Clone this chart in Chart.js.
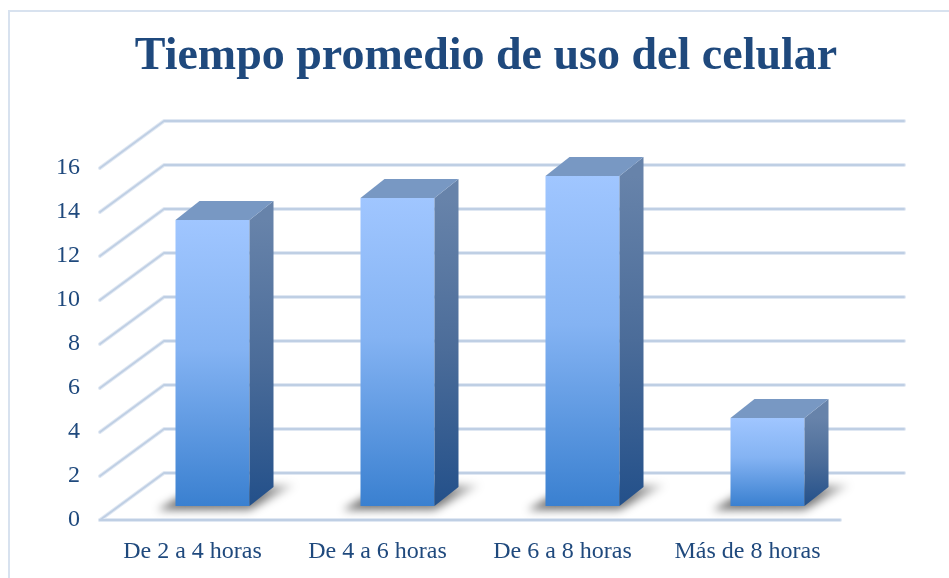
<!DOCTYPE html>
<html><head><meta charset="utf-8">
<script src="https://cdn.jsdelivr.net/npm/chart.js@4.4.1/dist/chart.umd.min.js"></script>
<style>html,body{margin:0;padding:0;background:#fff;} #wrap{width:949px;height:578px;position:relative;}</style>
</head><body><div id="wrap"><canvas id="c" width="949" height="578"></canvas></div>
<script>
const categories = ['De 2 a 4 horas', 'De 4 a 6 horas', 'De 6 a 8 horas', 'Más de 8 horas'];
const values = [13, 14, 15, 4];
const yTicks = [0, 2, 4, 6, 8, 10, 12, 14, 16];
const chartTitle = 'Tiempo promedio de uso del celular';

const TEXT_COLOR = '#1f497d';
const WALL_DX = 64, WALL_DY = -47;     // back wall offset from front plane
const BAR_SHIFT_X = 20, BAR_SHIFT_Y = -14; // bar front face depth
const BAR_DX = 24, BAR_DY = -19;       // bar depth

function frontGradient(ctx, top, bottom) {
  const g = ctx.createLinearGradient(0, top, 0, bottom);
  g.addColorStop(0, '#a0c6ff');
  g.addColorStop(0.45, '#84b3f3');
  g.addColorStop(1, '#3a80d0');
  return g;
}

function strokeGrid(ctx, draw) {
  ctx.strokeStyle = '#e0e8f3';
  ctx.lineWidth = 4;
  draw();
  ctx.strokeStyle = '#bfcfe4';
  ctx.lineWidth = 1.8;
  draw();
}

const threeD = {
  id: 'threeD',
  beforeDraw(chart) {
    const ctx = chart.ctx;
    ctx.save();
    ctx.fillStyle = '#ffffff';
    ctx.fillRect(0, 0, chart.width, chart.height);
    ctx.strokeStyle = '#d8e2ef';
    ctx.lineWidth = 2;
    ctx.beginPath();
    ctx.moveTo(9, chart.height);
    ctx.lineTo(9, 11);
    ctx.lineTo(chart.width, 11);
    ctx.stroke();
    ctx.fillStyle = TEXT_COLOR;
    ctx.font = 'bold 46px "Liberation Serif"';
    ctx.textAlign = 'center';
    ctx.textBaseline = 'alphabetic';
    ctx.fillText(chartTitle, 486, 69);
    ctx.restore();
  },
  beforeDatasetsDraw(chart) {
    const ctx = chart.ctx;
    const y = chart.scales.y, area = chart.chartArea;
    ctx.save();
    ctx.lineCap = 'round';
    ctx.lineJoin = 'round';
    const p0 = y.getPixelForValue(0);
    strokeGrid(ctx, () => {
      yTicks.forEach(v => {
        const py = y.getPixelForValue(v);
        ctx.beginPath();
        ctx.moveTo(area.left, py);
        ctx.lineTo(area.left + WALL_DX, py + WALL_DY);
        ctx.lineTo(area.right + WALL_DX, py + WALL_DY);
        ctx.stroke();
      });
      ctx.beginPath();
      ctx.moveTo(area.left, p0);
      ctx.lineTo(area.right, p0);
      ctx.stroke();
    });
    // shadows
    const meta = chart.getDatasetMeta(0);
    meta.data.forEach(bar => {
      const l = bar.x - bar.width / 2 + BAR_SHIFT_X, r = bar.x + bar.width / 2 + BAR_SHIFT_X;
      const b = bar.base + BAR_SHIFT_Y;
      ctx.save();
      ctx.filter = 'blur(4px)';
      const g = ctx.createLinearGradient(l, 0, r + BAR_DX + 22, 0);
      g.addColorStop(0, 'rgba(0,0,0,0.55)');
      g.addColorStop(0.7, 'rgba(0,0,0,0.5)');
      g.addColorStop(1, 'rgba(0,0,0,0.1)');
      ctx.fillStyle = g;
      ctx.beginPath();
      ctx.moveTo(l - 18, b + 4);
      ctx.lineTo(r, b + 4);
      ctx.lineTo(r + BAR_DX + 22, b + BAR_DY - 2);
      ctx.lineTo(l + BAR_DX, b + BAR_DY - 2);
      ctx.closePath();
      ctx.fill();
      ctx.restore();
    });
    ctx.restore();
    ctx.save();
    ctx.translate(BAR_SHIFT_X, BAR_SHIFT_Y);
  },
  afterDatasetsDraw(chart) {
    const ctx = chart.ctx;
    const meta = chart.getDatasetMeta(0);
    meta.data.forEach(bar => {
      const l = bar.x - bar.width / 2, r = bar.x + bar.width / 2;
      const t = bar.y, b = bar.base;
      const sg = ctx.createLinearGradient(0, t, 0, b);
      sg.addColorStop(0, '#6783aa');
      sg.addColorStop(0.5, '#4b6c99');
      sg.addColorStop(1, '#23508a');
      ctx.fillStyle = sg;
      ctx.beginPath();
      ctx.moveTo(r, t);
      ctx.lineTo(r + BAR_DX, t + BAR_DY);
      ctx.lineTo(r + BAR_DX, b + BAR_DY);
      ctx.lineTo(r, b);
      ctx.closePath();
      ctx.fill();
      ctx.fillStyle = '#7898c3';
      ctx.beginPath();
      ctx.moveTo(l, t);
      ctx.lineTo(l + BAR_DX, t + BAR_DY);
      ctx.lineTo(r + BAR_DX, t + BAR_DY);
      ctx.lineTo(r, t);
      ctx.closePath();
      ctx.fill();
    });
    ctx.restore();
  }
};

new Chart(document.getElementById('c'), {
  type: 'bar',
  data: {
    labels: categories,
    datasets: [{
      data: values,
      categoryPercentage: 1,
      barPercentage: 0.4,
      borderWidth: 0,
      backgroundColor(c) {
        const chart = c.chart;
        if (!chart.chartArea || c.parsed === undefined) return '#84b3f3';
        const ys = chart.scales.y;
        return frontGradient(chart.ctx, ys.getPixelForValue(c.parsed.y), ys.getPixelForValue(0));
      }
    }]
  },
  options: {
    responsive: false,
    animation: false,
    devicePixelRatio: 1,
    layout: { padding: { left: 0, right: 109, top: 168, bottom: 0 } },
    plugins: { legend: { display: false }, title: { display: false }, tooltip: { enabled: false } },
    scales: {
      x: {
        grid: { display: false, drawTicks: false },
        border: { display: false },
        ticks: { color: TEXT_COLOR, font: { family: 'Liberation Serif', size: 24 }, padding: 17, maxRotation: 0 },
        afterFit(s) { s.height = 58; }
      },
      y: {
        min: 0, max: 16,
        grid: { display: false, drawTicks: false },
        border: { display: false },
        afterBuildTicks(s) { s.ticks = yTicks.map(v => ({ value: v })); },
        ticks: { color: TEXT_COLOR, font: { family: 'Liberation Serif', size: 24 }, padding: 20 },
        afterFit(s) { s.width = 100; }
      }
    }
  },
  plugins: [threeD]
});
</script>
</body></html>
